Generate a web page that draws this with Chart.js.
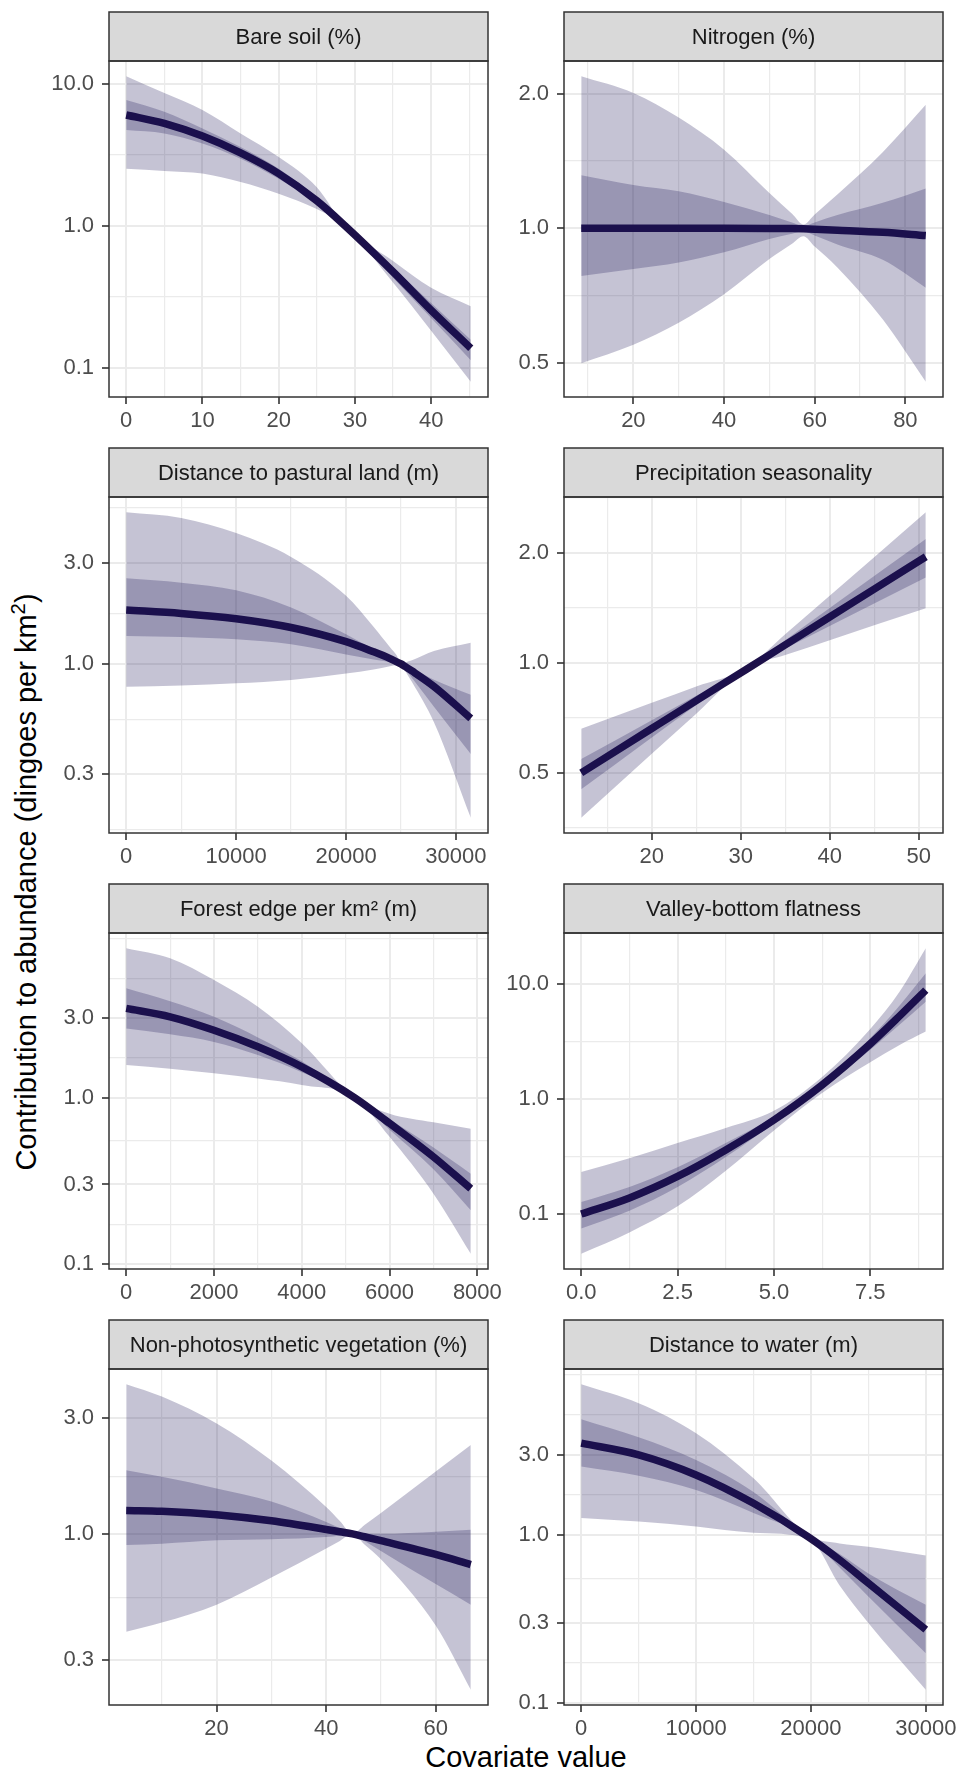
<!DOCTYPE html>
<html>
<head>
<meta charset="utf-8">
<script src="https://cdn.jsdelivr.net/npm/chart.js@4.4.1/dist/chart.umd.min.js"></script>
<style>
  body { margin: 0; background: #fff; width: 963px; height: 1773px; position: relative; overflow: hidden;
         font-family: "Liberation Sans", Arial, Helvetica, sans-serif; }
  canvas { position: absolute; }
  .axis-title { position: absolute; font-size: 29px; color: #000; white-space: nowrap; }
  #ytitle { left: 26px; top: 882px; transform: translate(-50%, -50%) rotate(-90deg); }
  #xtitle { left: 526px; top: 1757px; transform: translate(-50%, -50%); }
  sup { font-size: 0.7em; line-height: 0; }
</style>
</head>
<body>
<div id="ytitle" class="axis-title">Contribution to abundance (dingoes per km<sup>2</sup>)</div>
<div id="xtitle" class="axis-title">Covariate value</div>
<script>
// ---- data ----
const titles = ["Bare soil (%)", "Nitrogen (%)", "Distance to pastural land (m)", "Precipitation seasonality",
  "Forest edge per km² (m)", "Valley-bottom flatness", "Non-photosynthetic vegetation (%)", "Distance to water (m)"];

// bare soil
const bareX    = [0, 5, 10, 15, 20, 25, 28.7, 35, 40, 45.2];
const bareFit  = [6.03, 5.26, 4.28, 3.26, 2.33, 1.5, 1.0, 0.474, 0.254, 0.137];
const bareHi95 = [11.3, 8.6, 6.54, 4.47, 3.05, 1.87, 1.0, 0.565, 0.365, 0.271];
const bareLo95 = [2.52, 2.43, 2.33, 2.03, 1.68, 1.31, 1.0, 0.398, 0.182, 0.0796];
const bareHi50 = [7.7, 6.36, 4.85, 3.59, 2.52, 1.59, 1.0, 0.506, 0.286, 0.157];
const bareLo50 = [4.72, 4.47, 3.8, 2.97, 2.14, 1.43, 1.0, 0.43, 0.224, 0.113];
const bareXTicks = [0, 10, 20, 30, 40];
const bareYTicks = [0.1, 1, 10];

// nitrogen
const nitroX    = [8.5, 20, 30, 40, 50, 55, 57.5, 60, 65, 75, 84.5];
const nitroFit  = [1.0, 1.0, 1.0, 1.0, 0.999, 0.998, 0.997, 0.995, 0.99, 0.979, 0.963];
const nitroHi95 = [2.19, 2.01, 1.77, 1.5, 1.2, 1.077, 1.02, 1.074, 1.19, 1.48, 1.89];
const nitroLo95 = [0.498, 0.548, 0.614, 0.711, 0.853, 0.923, 0.96, 0.91, 0.817, 0.625, 0.453];
const nitroHi50 = [1.315, 1.25, 1.21, 1.145, 1.07, 1.03, 1.01, 1.03, 1.07, 1.14, 1.228];
const nitroLo50 = [0.782, 0.81, 0.838, 0.883, 0.946, 0.972, 0.985, 0.963, 0.92, 0.85, 0.736];
const nitroXTicks = [20, 40, 60, 80];
const nitroYTicks = [0.5, 1, 2];

// distance to pastural land
const pastX    = [0, 5000, 10000, 15000, 20000, 22500, 24000, 24600, 25000, 25400, 26000, 28000, 31350];
const pastFit  = [1.8, 1.734, 1.636, 1.487, 1.274, 1.141, 1.06, 1.023, 1.0, 0.97, 0.926, 0.782, 0.552];
const pastHi95 = [5.22, 4.91, 4.16, 3.21, 2.1, 1.5, 1.2, 1.1, 1.0, 1.016, 1.04, 1.15, 1.26];
const pastLo95 = [0.78, 0.79, 0.81, 0.84, 0.9, 0.94, 0.975, 0.99, 1.0, 0.924, 0.82, 0.53, 0.187];
const pastHi50 = [2.54, 2.42, 2.23, 1.85, 1.38, 1.172, 1.07, 1.027, 1.0, 0.98, 0.95, 0.842, 0.714];
const pastLo50 = [1.357, 1.342, 1.308, 1.238, 1.109, 1.049, 1.02, 1.008, 1.0, 0.94, 0.857, 0.627, 0.375];
const pastXTicks = [0, 10000, 20000, 30000];
const pastYTicks = [0.3, 1, 3];

// precipitation seasonality
const precX    = [12.07, 20, 25, 30.7, 35, 40, 45, 50.8];
const precFit  = [0.5, 0.661, 0.788, 0.962, 1.119, 1.334, 1.591, 1.95];
const precHi95 = [0.66, 0.777, 0.862, 0.97, 1.196, 1.525, 1.945, 2.58];
const precLo95 = [0.377, 0.564, 0.726, 0.97, 1.05, 1.153, 1.266, 1.41];
const precHi50 = [0.546, 0.697, 0.813, 0.97, 1.153, 1.411, 1.726, 2.18];
const precLo50 = [0.451, 0.625, 0.767, 0.97, 1.095, 1.261, 1.452, 1.71];
const precXTicks = [20, 30, 40, 50];
const precYTicks = [0.5, 1, 2];

// forest edge
const forX    = [0, 1000, 2000, 3000, 4000, 5200, 6000, 7000, 7850];
const forFit  = [3.44, 3.06, 2.54, 2.02, 1.53, 1.0, 0.70, 0.44, 0.283];
const forHi95 = [7.9, 6.88, 5.09, 3.51, 2.12, 1.0, 0.80, 0.71, 0.65];
const forLo95 = [1.57, 1.49, 1.40, 1.30, 1.19, 1.0, 0.58, 0.264, 0.115];
const forHi50 = [4.54, 3.8, 3.06, 2.3, 1.65, 1.0, 0.74, 0.5, 0.348];
const forLo50 = [2.6, 2.4, 2.16, 1.8, 1.42, 1.0, 0.64, 0.37, 0.21];
const forXTicks = [0, 2000, 4000, 6000, 8000];
const forYTicks = [0.1, 0.3, 1, 3];

// valley-bottom flatness
const valX    = [0, 1.25, 2.5, 3.75, 5.0, 6.25, 7.5, 8.25, 8.94];
const valFit  = [0.1, 0.138, 0.212, 0.36, 0.655, 1.32, 3.0, 5.2, 8.8];
const valHi95 = [0.232, 0.305, 0.413, 0.558, 0.787, 1.55, 4.05, 8.43, 20.3];
const valLo95 = [0.0452, 0.0692, 0.1165, 0.238, 0.532, 1.123, 2.075, 2.924, 3.84];
const valHi50 = [0.127, 0.172, 0.255, 0.413, 0.702, 1.398, 3.366, 6.4, 12.3];
const valLo50 = [0.075, 0.107, 0.172, 0.313, 0.611, 1.246, 2.674, 4.373, 6.97];
const valXTicks = [0, 2.5, 5, 7.5];
const valYTicks = [0.1, 1, 10];

// non-photosynthetic vegetation
const npvX    = [3.5, 10, 20, 30, 40, 42.5, 44.8, 47, 50, 60, 66.4];
const npvFit  = [1.249, 1.24, 1.2, 1.132, 1.043, 1.02, 1.0, 0.973, 0.937, 0.822, 0.746];
const npvHi95 = [4.15, 3.69, 2.86, 2.01, 1.29, 1.13, 1.0, 1.088, 1.22, 1.81, 2.33];
const npvLo95 = [0.394, 0.43, 0.51, 0.66, 0.87, 0.935, 1.0, 0.903, 0.785, 0.418, 0.227];
const npvHi50 = [1.83, 1.72, 1.54, 1.36, 1.12, 1.056, 1.0, 1.0, 1.0, 1.02, 1.04];
const npvLo50 = [0.90, 0.91, 0.94, 0.95, 0.97, 0.985, 1.0, 0.934, 0.85, 0.62, 0.51];
const npvXTicks = [20, 40, 60];
const npvYTicks = [0.3, 1, 3];

// distance to water
const watX    = [0, 5000, 10000, 15000, 19800, 22500, 25000, 30000];
const watFit  = [3.51, 2.99, 2.27, 1.54, 0.97, 0.71, 0.516, 0.273];
const watHi95 = [7.86, 6.06, 4.02, 2.17, 0.99, 0.89, 0.85, 0.753];
const watLo95 = [1.26, 1.2, 1.12, 1.03, 0.95, 0.5, 0.299, 0.12];
const watHi50 = [4.87, 3.8, 2.79, 1.8, 0.98, 0.77, 0.59, 0.384];
const watLo50 = [2.55, 2.25, 1.85, 1.35, 0.96, 0.64, 0.43, 0.198];
const watXTicks = [0, 10000, 20000, 30000];
const watYTicks = [0.1, 0.3, 1, 3];

const panels = [
  { x: bareX, fit: bareFit, hi95: bareHi95, lo95: bareLo95, hi50: bareHi50, lo50: bareLo50, xt: bareXTicks, yt: bareYTicks, xd: 0 },
  { x: nitroX, fit: nitroFit, hi95: nitroHi95, lo95: nitroLo95, hi50: nitroHi50, lo50: nitroLo50, xt: nitroXTicks, yt: nitroYTicks, xd: 0 },
  { x: pastX, fit: pastFit, hi95: pastHi95, lo95: pastLo95, hi50: pastHi50, lo50: pastLo50, xt: pastXTicks, yt: pastYTicks, xd: 0 },
  { x: precX, fit: precFit, hi95: precHi95, lo95: precLo95, hi50: precHi50, lo50: precLo50, xt: precXTicks, yt: precYTicks, xd: 0 },
  { x: forX, fit: forFit, hi95: forHi95, lo95: forLo95, hi50: forHi50, lo50: forLo50, xt: forXTicks, yt: forYTicks, xd: 0 },
  { x: valX, fit: valFit, hi95: valHi95, lo95: valLo95, hi50: valHi50, lo50: valLo50, xt: valXTicks, yt: valYTicks, xd: 1 },
  { x: npvX, fit: npvFit, hi95: npvHi95, lo95: npvLo95, hi50: npvHi50, lo50: npvLo50, xt: npvXTicks, yt: npvYTicks, xd: 0 },
  { x: watX, fit: watFit, hi95: watHi95, lo95: watLo95, hi50: watHi50, lo50: watLo50, xt: watXTicks, yt: watYTicks, xd: 0 }
];

// ---- layout ----
const colLeft = [109, 564];
const rowTop = [12, 448, 884, 1320];
const STRIP = 49, PLOT_W = 379, PLOT_H = 336, YAXIS = 90, XAXIS = 40, PAD_R = 40;

const lineColor = "#1e1149";
const bandColor = "rgba(24,15,82,0.25)";
const gridColor = "#ebebeb";
const darkLine = "#333333";

Chart.defaults.font.family = '"Liberation Sans", Arial, Helvetica, sans-serif';
Chart.defaults.font.size = 22;

// 5% expansion like ggplot, optionally in log space
function limits(vals, log) {
  const f = log ? Math.log10 : v => v;
  const t = vals.map(f);
  let lo = Math.min(...t), hi = Math.max(...t);
  const e = (hi - lo) * 0.05;
  lo -= e; hi += e;
  return log ? [Math.pow(10, lo), Math.pow(10, hi)] : [lo, hi];
}

// major + minor breaks (minor = midpoints between majors, extended one step each side)
function breaks(major, lim, log) {
  const f = log ? Math.log10 : v => v;
  const inv = log ? v => Math.pow(10, v) : v => v;
  const b = major.map(f);
  const bd = b[1] - b[0];
  const L = f(lim[0]), H = f(lim[1]);
  if (L < b[0]) b.unshift(b[0] - bd);
  if (H > b[b.length - 1]) b.push(b[b.length - 1] + bd);
  const minor = [];
  for (let i = 0; i < b.length - 1; i++) {
    minor.push(b[i]);
    minor.push((b[i] + b[i + 1]) / 2);
  }
  minor.push(b[b.length - 1]);
  const isMajor = v => major.some(m => Math.abs(f(m) - v) < 1e-9);
  const out = major.map(v => ({ value: v, minor: false }));
  minor.forEach(v => { if (!isMajor(v)) out.push({ value: inv(v), minor: true }); });
  return out.filter(t => t.value > lim[0] && t.value < lim[1]).sort((a, c) => a.value - c.value);
}

const stripPlugin = {
  id: "strip",
  afterDraw(chart, args, opts) {
    const { ctx, chartArea: a } = chart;
    const w = a.right - a.left;
    ctx.save();
    ctx.fillStyle = "#d9d9d9";
    ctx.fillRect(a.left, a.top - STRIP, w, STRIP);
    ctx.strokeStyle = darkLine;
    ctx.lineWidth = 1.5;
    ctx.strokeRect(a.left, a.top - STRIP, w, STRIP);
    ctx.strokeRect(a.left, a.top, w, a.bottom - a.top);
    ctx.fillStyle = "#1a1a1a";
    ctx.font = '22px "Liberation Sans", Arial, Helvetica, sans-serif';
    ctx.textAlign = "center";
    ctx.textBaseline = "middle";
    ctx.fillText(opts.text, a.left + w / 2, a.top - STRIP / 2 + 1);
    ctx.restore();
  }
};

const pts = (xs, ys) => xs.map((x, i) => ({ x: x, y: ys[i] }));

const gridOpts = {
  color: gridColor,
  lineWidth: c => (c.tick && c.tick.minor ? 1.2 : 2),
  tickLength: 7,
  tickWidth: 1.6,
  tickColor: c => (c.tick && c.tick.minor ? "rgba(0,0,0,0)" : darkLine)
};

panels.forEach((p, k) => {
  const col = k % 2, row = Math.floor(k / 2);
  const canvas = document.createElement("canvas");
  canvas.width = YAXIS + PLOT_W + PAD_R;
  canvas.height = 2 + STRIP + PLOT_H + XAXIS + 4;
  canvas.style.left = (colLeft[col] - YAXIS) + "px";
  canvas.style.top = (rowTop[row] - 2) + "px";
  document.body.appendChild(canvas);

  const xLim = limits(p.x, false);
  const yLim = limits([].concat(p.fit, p.hi95, p.lo95, p.hi50, p.lo50), true);
  const xTicks = breaks(p.xt, xLim, false);
  const yTicks = breaks(p.yt, yLim, true);

  const band = (data, fill) => ({
    data: data, fill: fill, backgroundColor: bandColor, borderColor: "rgba(0,0,0,0)",
    borderWidth: 0, pointRadius: 0, cubicInterpolationMode: "monotone"
  });

  new Chart(canvas.getContext("2d"), {
    type: "line",
    data: {
      datasets: [
        band(pts(p.x, p.lo95), false),
        band(pts(p.x, p.hi95), "-1"),
        band(pts(p.x, p.lo50), false),
        band(pts(p.x, p.hi50), "-1"),
        {
          data: pts(p.x, p.fit), fill: false, borderColor: lineColor, borderWidth: 7.5,
          pointRadius: 0, cubicInterpolationMode: "monotone", borderCapStyle: "butt"
        }
      ]
    },
    options: {
      responsive: false,
      animation: false,
      events: [],
      layout: { padding: { top: 2 + STRIP, right: PAD_R, bottom: 4, left: 0 } },
      plugins: { legend: { display: false }, tooltip: { enabled: false }, strip: { text: titles[k] } },
      scales: {
        x: {
          type: "linear", min: xLim[0], max: xLim[1], bounds: "data",
          afterBuildTicks: s => { s.ticks = xTicks.map(t => ({ value: t.value, minor: t.minor })); },
          afterFit: s => { s.height = XAXIS; },
          grid: gridOpts,
          border: { display: false },
          ticks: {
            color: "#4d4d4d", padding: 4, autoSkip: false, maxRotation: 0, minRotation: 0,
            callback: (v, i, t) => (t[i].minor ? "" : v.toFixed(p.xd))
          }
        },
        y: {
          type: "logarithmic", min: yLim[0], max: yLim[1], bounds: "data",
          afterBuildTicks: s => { s.ticks = yTicks.map(t => ({ value: t.value, minor: t.minor })); },
          afterFit: s => { s.width = YAXIS; },
          grid: gridOpts,
          border: { display: false },
          ticks: {
            color: "#4d4d4d", padding: 8, autoSkip: false,
            callback: (v, i, t) => (t[i].minor ? "" : v.toFixed(1))
          }
        }
      }
    },
    plugins: [stripPlugin]
  });
});
</script>
</body>
</html>
